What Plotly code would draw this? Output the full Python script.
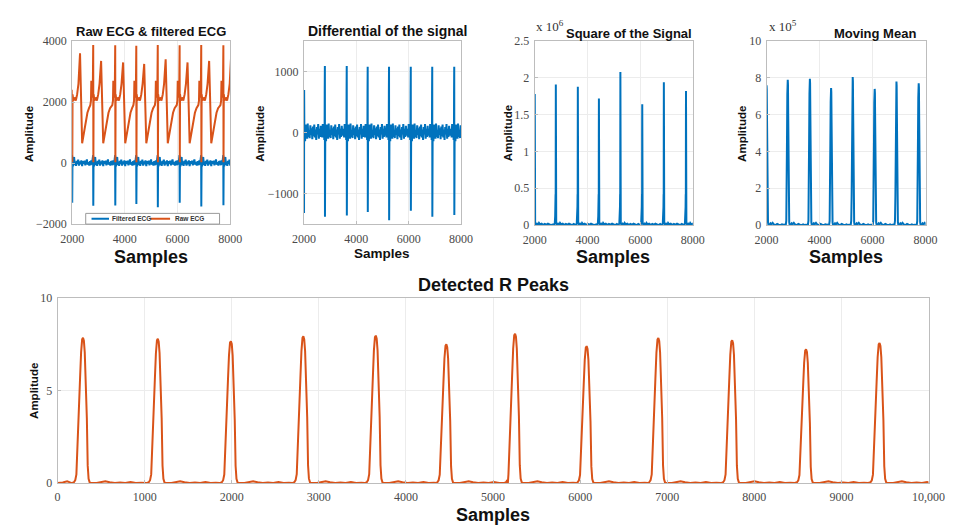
import plotly.graph_objects as go

# ---------------- data ----------------
# top row: sample index of each heartbeat inside the 2000-8000 window
beat_samples = [2000, 2800, 3635, 4435, 5250, 6080, 6900, 7740]
raw_r_amp = [1700, 3870, 3860, 3850, 3870, 3860, 3870, 3860]
raw_t_amp = [3600, 3350, 3300, 3250, 3400, 3300, 3350, 3600]
filt_s_amp = [-1300, -1400, -1390, -1340, -1450, -1300, -1420, -1380]
diff_pos_amp = [660, 1090, 1090, 1080, 1080, 1080, 1080, 1080]
diff_neg_amp = [-1320, -1380, -1360, -1300, -1435, -1280, -1380, -1350]
square_amp = [1.78, 1.91, 1.88, 1.72, 2.08, 1.64, 1.94, 1.82]   # x 10^6
mean_amp = [7.6, 7.9, 7.95, 7.45, 8.05, 7.4, 7.8, 7.7]          # x 10^5

# bottom: detected R peaks
rpeak_samples = [298, 1157, 1996, 2828, 3660, 4470, 5259, 6081, 6904, 7752, 8600, 9444]
rpeak_amp = [7.85, 7.8, 7.67, 7.93, 7.97, 7.5, 8.07, 7.4, 7.84, 7.72, 7.23, 7.57]

# beat waveform shapes (offset from beat in samples, value)
raw_shape_off = [-110, -85, -72, -58, -35, -15, 6, 16, 45, 90, 140, 190, 240, 380, 440, 510, 580, 640, 690]
raw_shape_val = [1900, 2050, 2700, 2150, 2250, 2400, 30, 2250, 2050, 2150, 2050, 2250, 2600, 650, 1000, 1350, 1650, 1800, 1880]
raw_t_off = 300

filt_qrs_off = [-8, -3, 8, 13]
filt_qrs_val = [150, 260, -280, 90]
filt_s_off = 3
filt_noise_off = [-120, -95, -75, -50, -30, 30, 50, 75, 100, 125, 150, 175, 200, 230, 260, 290,
                  320, 350, 380, 410, 440, 470, 500, 530, 560, 590, 620, 650, 680]
filt_noise_val = [30, -70, 90, -50, 60, -110, 80, 200, -60, 40, -90, 70, -30, 110, -80, 50,
                  -40, 90, -100, 60, -20, 80, -70, 40, 120, -50, 30, -80, 60]

diff_qrs_off = [-10, -6, -3, 8, 12, 16]
diff_qrs_val = [40, 650, -450, 700, -250, 60]
diff_neg_off = 4
diff_noise_off = [-120, -100, -80, -60, -40, -22, 25, 45, 65, 85, 105, 125, 145, 170, 195, 220, 245,
                  270, 295, 320, 345, 370, 395, 420, 445, 470, 495, 520, 545, 570, 595, 620, 645, 670]
diff_noise_val = [60, -80, 140, -60, 110, -120, 90, -140, 130, -50, 80, -100, 150, -70, 40, -90, 120,
                  -40, 70, -110, 100, -60, 130, -80, 50, -120, 90, -30, 140, -100, 60, -70, 110, -50]

sq_spike_off = [-40, -25, -15, -10, -6, -3, 4, 8, 15]
sq_spike_val = [0.02, 0.12, 0.25, 0.42, 0.2, 1.2, 0.5, 0.06, 0.02]
sq_base_off = [-120, -80, 40, 80, 120, 160, 200, 260, 320, 380, 440, 500, 560, 620, 680]
sq_base_val = [0.01, 0.0, 0.01, 0.02, 0.0, 0.03, 0.01, 0.02, 0.0, 0.015, 0.005, 0.02, 0.01, 0.0, 0.015]

mean_pulse_off = [-75, -55, -40, -28, -16, -6, 0, 8, 18, 28, 40, 55, 72]
mean_pulse_rel = [0.0, 0.03, 0.2, 0.6, 0.9, 0.99, 1.0, 0.97, 0.75, 0.4, 0.12, 0.02, 0.0]
mean_base_off = [-120, 110, 150, 190, 230, 280, 340, 400, 460, 520, 580, 640, 690]
mean_base_val = [0.0, 0.0, 0.1, 0.05, 0.12, 0.03, 0.0, 0.06, 0.02, 0.0, 0.04, 0.0, 0.02]

r_pulse_off = [-135, -110, -95, -82, -72, -62, -52, -40, -28, -16, -6, 4, 14, 24, 30, 38, 48, 58, 70, 85]
r_pulse_rel = [0.0, 0.006, 0.02, 0.06, 0.25, 0.45, 0.5, 0.72, 0.9, 0.99, 1.0, 0.98, 0.9, 0.72, 0.68,
               0.45, 0.12, 0.03, 0.005, 0.0]
r_base_off = [150, 200, 250, 300, 360, 420, 480, 540, 600, 660, 700]
r_base_val = [0.0, 0.05, 0.1, 0.04, 0.0, 0.03, 0.0, 0.05, 0.0, 0.02, 0.0]
r_lead_x = [0, 60, 110, 150]
r_lead_y = [0.0, 0.03, 0.1, 0.02]

top_xticks = [2000, 4000, 6000, 8000]
bottom_xticks = [0, 1000, 2000, 3000, 4000, 5000, 6000, 7000, 8000, 9000, 10000]
bottom_xtext = ["0", "1000", "2000", "3000", "4000", "5000", "6000", "7000", "8000", "9000", "10,000"]
legend_names = ["Filtered ECG", "Raw ECG"]


# ---------------- series assembly ----------------
def scaled(beats, amps, offs, rels):
    return [(b + o, a * r) for b, a in zip(beats, amps) for o, r in zip(offs, rels)]


def fixed(beats, offs, vals):
    return [(b + o, v) for b in beats for o, v in zip(offs, vals)]


def xy(pts):
    pts = sorted(pts)
    return [p[0] for p in pts], [p[1] for p in pts]


raw_x, raw_y = xy(fixed(beat_samples, raw_shape_off, raw_shape_val)
                  + scaled(beat_samples, raw_r_amp, [0], [1])
                  + scaled(beat_samples, raw_t_amp, [raw_t_off], [1]))
filt_x, filt_y = xy(fixed(beat_samples, filt_qrs_off, filt_qrs_val)
                    + fixed(beat_samples, filt_noise_off, filt_noise_val)
                    + scaled(beat_samples, filt_s_amp, [filt_s_off], [1]))
diff_x, diff_y = xy(fixed(beat_samples, diff_qrs_off, diff_qrs_val)
                    + fixed(beat_samples, diff_noise_off, diff_noise_val)
                    + scaled(beat_samples, diff_pos_amp, [0], [1])
                    + scaled(beat_samples, diff_neg_amp, [diff_neg_off], [1]))
sq_x, sq_y = xy(fixed(beat_samples, sq_spike_off, sq_spike_val)
                + fixed(beat_samples, sq_base_off, sq_base_val)
                + scaled(beat_samples, square_amp, [0], [1]))
mm_x, mm_y = xy(scaled(beat_samples, mean_amp, mean_pulse_off, mean_pulse_rel)
                + fixed(beat_samples, mean_base_off, mean_base_val))
rp_x, rp_y = xy(scaled(rpeak_samples, rpeak_amp, r_pulse_off, r_pulse_rel)
                + fixed(rpeak_samples, r_base_off, r_base_val)
                + list(zip(r_lead_x, r_lead_y)))

BLUE = "#0072BD"
ORANGE = "#D95319"
W, H = 962, 529


def px(x):
    return x / W


def py(y):
    return 1 - y / H


fig = go.Figure()
fig.add_trace(go.Scatter(x=filt_x, y=filt_y, mode="lines", name=legend_names[0], showlegend=False,
                         line=dict(color=BLUE, width=2), xaxis="x", yaxis="y"))
fig.add_trace(go.Scatter(x=raw_x, y=raw_y, mode="lines", name=legend_names[1], showlegend=False,
                         line=dict(color=ORANGE, width=2), xaxis="x", yaxis="y"))
fig.add_trace(go.Scatter(x=diff_x, y=diff_y, mode="lines", showlegend=False,
                         line=dict(color=BLUE, width=2), xaxis="x2", yaxis="y2"))
fig.add_trace(go.Scatter(x=sq_x, y=sq_y, mode="lines", showlegend=False,
                         line=dict(color=BLUE, width=2), xaxis="x3", yaxis="y3"))
fig.add_trace(go.Scatter(x=mm_x, y=mm_y, mode="lines", showlegend=False,
                         line=dict(color=BLUE, width=2), xaxis="x4", yaxis="y4"))
fig.add_trace(go.Scatter(x=rp_x, y=rp_y, mode="lines", showlegend=False,
                         line=dict(color=ORANGE, width=2), xaxis="x5", yaxis="y5"))

TICKFONT = dict(family="Liberation Serif", size=12, color="#4a4a4a")


def axis(**kw):
    d = dict(showline=True, linecolor="#bdbdbd", linewidth=1, mirror=True, ticks="inside",
             ticklen=3, tickcolor="#bdbdbd", showgrid=True, gridcolor="#ececec", gridwidth=1,
             zeroline=False, tickfont=TICKFONT, fixedrange=True)
    d.update(kw)
    return d


top_y = [py(223), py(35)]
top_y2 = [py(224), py(35)]

layout = dict(
    width=W, height=H, margin=dict(l=0, r=0, t=0, b=0),
    paper_bgcolor="white", plot_bgcolor="white", showlegend=False,
    xaxis=axis(domain=[px(62), px(225)], range=[2000, 8000], tickvals=top_xticks, anchor="y",
               ticklabelstandoff=4),
    yaxis=axis(domain=top_y, range=[-2000, 4000], tickvals=[-2000, 0, 2000, 4000],
               ticktext=["\u22122000", "0", "2000", "4000"], anchor="x", ticklabelstandoff=2),
    xaxis2=axis(domain=[px(301), px(463)], range=[2000, 8000], tickvals=top_xticks, anchor="y2",
                ticklabelstandoff=4),
    yaxis2=axis(domain=top_y, range=[-1500, 1500], tickvals=[-1000, 0, 1000],
                ticktext=["\u22121000", "0", "1000"], anchor="x2", ticklabelstandoff=2),
    xaxis3=axis(domain=[px(539), px(702)], range=[2000, 8000], tickvals=top_xticks, anchor="y3",
                ticklabelstandoff=4),
    yaxis3=axis(domain=top_y2, range=[0, 2.5], tickvals=[0, 0.5, 1, 1.5, 2, 2.5],
                ticktext=["0", "0.5", "1", "1.5", "2", "2.5"], anchor="x3", ticklabelstandoff=2),
    xaxis4=axis(domain=[px(778), px(942)], range=[2000, 8000], tickvals=top_xticks, anchor="y4",
                ticklabelstandoff=4),
    yaxis4=axis(domain=top_y2, range=[0, 10], tickvals=[0, 2, 4, 6, 8, 10], anchor="x4",
                ticklabelstandoff=2),
    xaxis5=axis(domain=[px(47), px(945)], range=[0, 10000], tickvals=bottom_xticks,
                ticktext=bottom_xtext, anchor="y5", ticklabelstandoff=3),
    yaxis5=axis(domain=[py(489), py(299)], range=[0, 10], tickvals=[0, 5, 10], anchor="x5",
                ticklabelstandoff=2),
)


def note(text, x, y, size, angle=0, bold=True, family="Liberation Sans", anchor="center", color="#111"):
    return dict(text=f"<b>{text}</b>" if bold else text, x=px(x), y=py(y), xref="paper",
                yref="paper", showarrow=False, xanchor=anchor, yanchor="middle",
                textangle=angle, font=dict(family=family, size=size, color=color))


annotations = [
    note("Raw ECG &amp; filtered ECG", 143, 25, 13),
    note("Differential of the signal", 387, 25, 14),
    note("Square of the Signal", 636, 27, 13),
    note("Moving Mean", 890, 27, 13),
    note("Detected R Peaks", 496, 286, 18),
    note("Samples", 143, 257, 18),
    note("Samples", 382, 253, 13.5),
    note("Samples", 620, 257, 18),
    note("Samples", 860, 257, 18),
    note("Samples", 496, 522, 18),
    note("Amplitude", 17, 130, 11.5, angle=-90),
    note("Amplitude", 255, 130, 11.5, angle=-90),
    note("Amplitude", 511, 130, 11.5, angle=-90),
    note("Amplitude", 752, 130, 11.5, angle=-90),
    note("Amplitude", 22, 394, 11.5, angle=-90),
    note("x 10<sup>6</sup>", 538, 20, 13, bold=False, family="Liberation Serif", anchor="left", color="#333"),
    note("x 10<sup>5</sup>", 778, 20, 13, bold=False, family="Liberation Serif", anchor="left", color="#333"),
    # hand-drawn legend texts for the first panel
    note(legend_names[0], 101, 217.5, 6.5, anchor="left", color="#333"),
    note(legend_names[1], 166, 217.5, 6.5, anchor="left", color="#333"),
]
layout["annotations"] = annotations

shapes = [
    dict(type="rect", xref="paper", yref="paper", x0=px(76), x1=px(214), y0=py(223), y1=py(212),
         line=dict(color="#9a9a9a", width=1), fillcolor="white", layer="above"),
    dict(type="line", xref="paper", yref="paper", x0=px(82), x1=px(100), y0=py(217.5), y1=py(217.5),
         line=dict(color=BLUE, width=2), layer="above"),
    dict(type="line", xref="paper", yref="paper", x0=px(143), x1=px(163), y0=py(217.5), y1=py(217.5),
         line=dict(color=ORANGE, width=2), layer="above"),
]
layout["shapes"] = shapes

fig.update_layout(**layout)
fig.write_html("out.html")
